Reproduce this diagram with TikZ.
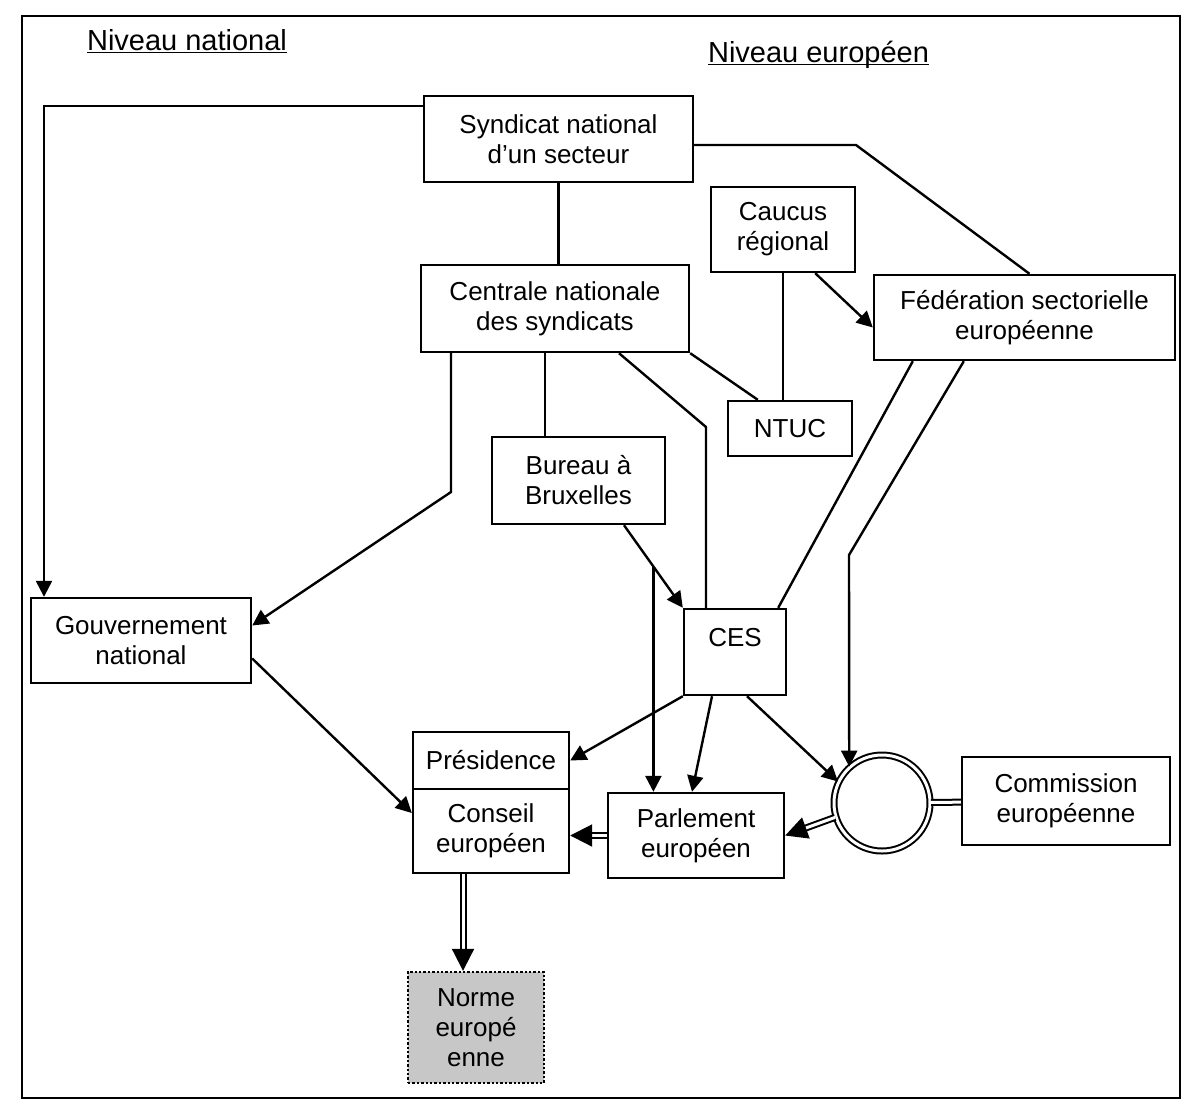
\documentclass[tikz,border=0pt]{standalone}
\usepackage{fontspec}
\setmainfont{Liberation Sans}
\usetikzlibrary{arrows.meta, positioning, calc}

\begin{document}
\begin{tikzpicture}[
    x=0.5pt, y=-0.5pt,
    font=\fontsize{13}{15}\selectfont,
    box/.style={draw, line width=1.2pt, align=center, inner sep=0pt},
    link/.style={line width=1.2pt},
    arrow/.style={-{Triangle[length=8pt, width=8pt]}, line width=1.2pt},
    dblline/.style={double, double distance=1.5pt, line width=1pt},
    dblarrow/.style={dblline, -{Triangle[length=11pt, width=11pt]}},
    title/.style={anchor=base west, font=\fontsize{14.5}{17}\selectfont}
]
    \useasboundingbox (0,0) rectangle (1193,1109);
    \draw[line width=1.2pt] (22,16) rectangle (1180,1098);

    \node[title] (nat) at (80,50) {\underline{\smash{Niveau national}}};
    \node[title] (eur) at (701,62) {\underline{\smash{Niveau européen}}};

    \node[box, minimum width=134.5pt, minimum height=43pt] (syn) at (558.5,139) {Syndicat national\\d’un secteur};
    \node[box, minimum width=72pt, minimum height=42.5pt] (cau) at (783,229.5) {Caucus\\régional};
    \node[box, minimum width=134pt, minimum height=43.5pt] (cent) at (555,308.5) {Centrale nationale\\des syndicats};
    \node[box, minimum width=150.5pt, minimum height=42.5pt] (fed) at (1024.5,317.5) {Fédération sectorielle\\européenne};
    \node[box, minimum width=62pt, minimum height=27.5pt] (ntuc) at (790,428.5) {NTUC};
    \node[box, minimum width=86.5pt, minimum height=43.5pt] (bur) at (578.5,480.5) {Bureau à\\Bruxelles};
    \node[box, minimum width=110pt, minimum height=42.5pt] (gouv) at (141,640.5) {Gouvernement\\national};
    \node[box, minimum width=51pt, minimum height=43pt] (ces) at (735,652) {CES\\\mbox{}};
    \node[box, minimum width=78pt, minimum height=28.5pt] (pres) at (491,760.5) {Présidence};
    \node[box, minimum width=78pt, minimum height=42pt] (conseil) at (491,831) {Conseil\\européen};
    \node[box, minimum width=88pt, minimum height=42.5pt] (parl) at (696,835.5) {Parlement\\européen};
    \node[dblline, draw, circle, inner sep=0pt, minimum size=48pt] (circ) at (882,803) {};
    \node[box, minimum width=104pt, minimum height=44pt] (com) at (1066,801) {Commission\\européenne};
    \node[box, densely dotted, fill=black!22, minimum width=68pt, minimum height=55.5pt] (norme) at (476,1027.5) {Norme\\europé\\enne};

    % national union
    \coordinate (k1) at (44,106);
    \draw[arrow] (syn.west |- k1) -- (k1) -- (k1 |- gouv.north);
    \draw[link] (syn) -- (syn |- cent.north);
    \coordinate (k2) at (856,145);
    \draw[link] (syn.east |- k2) -- (k2) -- ([xshift=2.5pt]fed.north);

    % caucus
    \draw[link] (cau) -- (cau |- ntuc.north);
    \draw[arrow] ([xshift=-20.5pt]cau.south east) -- ([yshift=-5pt]fed.west);

    % centrale
    \draw[link] (cent.south east) -- ([xshift=15.5pt]ntuc.north west);
    \coordinate (k3) at (706,427);
    \draw[link] ([xshift=32pt]cent.south) -- (k3) -- (k3 |- ces.north);
    \coordinate (k4) at (451,492);
    \draw[arrow] (k4 |- cent.south) -- (k4) -- ([yshift=7.5pt]gouv.east);
    \coordinate (k5) at (545,400);
    \draw[link] (k5 |- cent.south) -- (k5 |- bur.north);

    % bureau
    \coordinate (b1) at ([xshift=22.75pt]bur.south);
    \draw[arrow] (b1) -- (ces.north west);
    \coordinate (k6) at ($(b1)!0.5!(ces.north west)$);
    \draw[arrow] (k6) -- (k6 |- parl.north);

    % federation
    \draw[link] ([xshift=20pt]fed.south west) -- ([xshift=-4.5pt]ces.north east);
    \coordinate (k7) at (849,555);
    \draw[arrow] ([xshift=45.5pt]fed.south west) -- (k7) -- (circ.132);

    % CES
    \draw[arrow] (ces.south west) -- (pres.east);
    \draw[arrow] ([xshift=-11.5pt]ces.south) -- ([xshift=-2pt]parl.north);
    \draw[arrow] ([xshift=6pt]ces.south) -- (circ.154);

    % government
    \draw[arrow] ([yshift=-9pt]gouv.east) -- ([yshift=9pt]conseil.west);

    % decision chain
    \draw[dblarrow] (parl.west) -- (parl.west -| conseil.east);
    \draw[dblarrow] (circ.197) -- (parl.east);
    \draw[dblline] (circ) -- (com);
    \coordinate (k9) at ([xshift=-14pt]conseil.south);
    \draw[dblarrow] (k9) -- (k9 |- norme.north);
\end{tikzpicture}
\end{document}
